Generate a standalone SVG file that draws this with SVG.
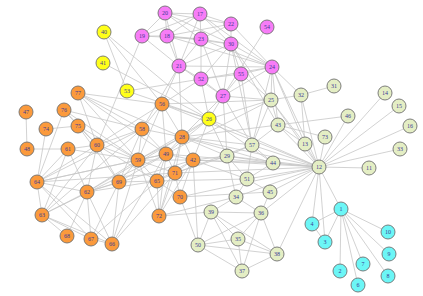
<svg xmlns="http://www.w3.org/2000/svg" width="423" height="296" viewBox="0 0 423 296">
<style>
.e line{stroke:#c6c6c6;stroke-width:0.8}
.n circle{stroke:#707070;stroke-width:0.9}
.n text{font-family:"Liberation Serif",serif;font-size:6px;fill:#3b3b94;text-anchor:middle;dominant-baseline:central}
.y circle{fill:#ffff1a}
.m circle{fill:#f77cf7}
.o circle{fill:#fb9a3c}
.g circle{fill:#e4eec4}
.c circle{fill:#6cf6f6}
</style>
<rect width="423" height="296" fill="#ffffff"/>
<g id="connectors" class="e">
<line x1="165" y1="13" x2="200" y2="14"/><line x1="165" y1="13" x2="167" y2="36"/><line x1="165" y1="13" x2="142" y2="36"/><line x1="165" y1="13" x2="201" y2="39"/><line x1="165" y1="13" x2="231" y2="24"/><line x1="165" y1="13" x2="179" y2="66"/><line x1="165" y1="13" x2="231" y2="44"/>
<line x1="200" y1="14" x2="231" y2="24"/><line x1="200" y1="14" x2="167" y2="36"/><line x1="200" y1="14" x2="142" y2="36"/><line x1="200" y1="14" x2="201" y2="39"/><line x1="200" y1="14" x2="231" y2="44"/><line x1="200" y1="14" x2="179" y2="66"/><line x1="200" y1="14" x2="272" y2="67"/>
<line x1="231" y1="24" x2="201" y2="39"/><line x1="231" y1="24" x2="167" y2="36"/><line x1="231" y1="24" x2="231" y2="44"/><line x1="231" y1="24" x2="272" y2="67"/>
<line x1="142" y1="36" x2="167" y2="36"/><line x1="142" y1="36" x2="201" y2="39"/><line x1="142" y1="36" x2="179" y2="66"/>
<line x1="167" y1="36" x2="201" y2="39"/><line x1="167" y1="36" x2="179" y2="66"/><line x1="167" y1="36" x2="231" y2="44"/><line x1="167" y1="36" x2="272" y2="67"/>
<line x1="201" y1="39" x2="231" y2="44"/><line x1="201" y1="39" x2="179" y2="66"/><line x1="201" y1="39" x2="272" y2="67"/><line x1="201" y1="39" x2="201" y2="79"/><line x1="201" y1="39" x2="223" y2="96"/>
<line x1="231" y1="44" x2="272" y2="67"/><line x1="231" y1="44" x2="179" y2="66"/><line x1="231" y1="44" x2="201" y2="79"/><line x1="231" y1="44" x2="241" y2="74"/><line x1="231" y1="44" x2="223" y2="96"/><line x1="231" y1="44" x2="271" y2="100"/><line x1="231" y1="44" x2="252" y2="145"/><line x1="231" y1="44" x2="278" y2="125"/>
<line x1="267" y1="27" x2="223" y2="96"/>
<line x1="272" y1="67" x2="241" y2="74"/><line x1="272" y1="67" x2="179" y2="66"/><line x1="272" y1="67" x2="223" y2="96"/><line x1="272" y1="67" x2="271" y2="100"/><line x1="272" y1="67" x2="301" y2="95"/><line x1="272" y1="67" x2="278" y2="125"/><line x1="272" y1="67" x2="305" y2="144"/><line x1="272" y1="67" x2="319" y2="167"/><line x1="272" y1="67" x2="252" y2="145"/><line x1="272" y1="67" x2="201" y2="79"/>
<line x1="179" y1="66" x2="201" y2="79"/><line x1="179" y1="66" x2="162" y2="104"/><line x1="179" y1="66" x2="182" y2="137"/><line x1="179" y1="66" x2="223" y2="96"/>
<line x1="201" y1="79" x2="241" y2="74"/><line x1="201" y1="79" x2="223" y2="96"/><line x1="201" y1="79" x2="209" y2="119"/><line x1="201" y1="79" x2="162" y2="104"/>
<line x1="241" y1="74" x2="223" y2="96"/><line x1="241" y1="74" x2="271" y2="100"/><line x1="241" y1="74" x2="252" y2="145"/>
<line x1="223" y1="96" x2="209" y2="119"/><line x1="223" y1="96" x2="271" y2="100"/><line x1="223" y1="96" x2="252" y2="145"/><line x1="223" y1="96" x2="227" y2="156"/><line x1="223" y1="96" x2="182" y2="137"/>
<line x1="142" y1="36" x2="97" y2="145"/><line x1="179" y1="66" x2="142" y2="129"/>
<line x1="104" y1="32" x2="162" y2="104"/><line x1="104" y1="32" x2="209" y2="119"/><line x1="104" y1="32" x2="127" y2="91"/><line x1="103" y1="63" x2="209" y2="119"/><line x1="127" y1="91" x2="201" y2="79"/><line x1="127" y1="91" x2="209" y2="119"/>
<line x1="209" y1="119" x2="162" y2="104"/><line x1="209" y1="119" x2="182" y2="137"/><line x1="209" y1="119" x2="166" y2="154"/><line x1="209" y1="119" x2="193" y2="160"/><line x1="209" y1="119" x2="319" y2="167"/><line x1="209" y1="119" x2="227" y2="156"/><line x1="209" y1="119" x2="271" y2="100"/><line x1="209" y1="119" x2="273" y2="163"/><line x1="209" y1="119" x2="138" y2="160"/>
<line x1="26" y1="112" x2="27" y2="149"/><line x1="27" y1="149" x2="68" y2="149"/><line x1="46" y1="129" x2="78" y2="126"/><line x1="64" y1="110" x2="78" y2="126"/><line x1="64" y1="110" x2="97" y2="145"/><line x1="64" y1="110" x2="142" y2="129"/><line x1="64" y1="110" x2="138" y2="160"/>
<line x1="78" y1="93" x2="142" y2="129"/><line x1="78" y1="93" x2="162" y2="104"/><line x1="78" y1="93" x2="138" y2="160"/><line x1="78" y1="93" x2="166" y2="154"/><line x1="78" y1="93" x2="97" y2="145"/><line x1="78" y1="93" x2="182" y2="137"/>
<line x1="78" y1="126" x2="97" y2="145"/><line x1="78" y1="126" x2="138" y2="160"/><line x1="78" y1="126" x2="119" y2="182"/>
<line x1="68" y1="149" x2="97" y2="145"/><line x1="68" y1="149" x2="37" y2="182"/><line x1="68" y1="149" x2="87" y2="192"/><line x1="68" y1="149" x2="42" y2="215"/><line x1="68" y1="149" x2="138" y2="160"/>
<line x1="97" y1="145" x2="142" y2="129"/><line x1="97" y1="145" x2="138" y2="160"/><line x1="97" y1="145" x2="87" y2="192"/><line x1="97" y1="145" x2="119" y2="182"/><line x1="97" y1="145" x2="37" y2="182"/><line x1="97" y1="145" x2="42" y2="215"/><line x1="97" y1="145" x2="157" y2="181"/><line x1="97" y1="145" x2="162" y2="104"/>
<line x1="142" y1="129" x2="138" y2="160"/><line x1="142" y1="129" x2="166" y2="154"/><line x1="142" y1="129" x2="162" y2="104"/><line x1="142" y1="129" x2="182" y2="137"/><line x1="142" y1="129" x2="119" y2="182"/><line x1="142" y1="129" x2="37" y2="182"/><line x1="142" y1="129" x2="42" y2="215"/>
<line x1="138" y1="160" x2="166" y2="154"/><line x1="138" y1="160" x2="119" y2="182"/><line x1="138" y1="160" x2="87" y2="192"/><line x1="138" y1="160" x2="37" y2="182"/><line x1="138" y1="160" x2="157" y2="181"/><line x1="138" y1="160" x2="175" y2="173"/><line x1="138" y1="160" x2="193" y2="160"/><line x1="138" y1="160" x2="182" y2="137"/>
<line x1="162" y1="104" x2="166" y2="154"/><line x1="162" y1="104" x2="182" y2="137"/><line x1="162" y1="104" x2="138" y2="160"/>
<line x1="182" y1="137" x2="166" y2="154"/><line x1="182" y1="137" x2="193" y2="160"/><line x1="182" y1="137" x2="175" y2="173"/>
<line x1="166" y1="154" x2="193" y2="160"/><line x1="166" y1="154" x2="175" y2="173"/><line x1="166" y1="154" x2="157" y2="181"/><line x1="166" y1="154" x2="119" y2="182"/><line x1="166" y1="154" x2="37" y2="182"/>
<line x1="193" y1="160" x2="175" y2="173"/><line x1="193" y1="160" x2="180" y2="197"/><line x1="193" y1="160" x2="157" y2="181"/>
<line x1="175" y1="173" x2="157" y2="181"/><line x1="175" y1="173" x2="180" y2="197"/><line x1="175" y1="173" x2="159" y2="216"/><line x1="175" y1="173" x2="112" y2="244"/>
<line x1="157" y1="181" x2="119" y2="182"/><line x1="157" y1="181" x2="159" y2="216"/><line x1="157" y1="181" x2="180" y2="197"/><line x1="157" y1="181" x2="87" y2="192"/><line x1="157" y1="181" x2="91" y2="239"/>
<line x1="119" y1="182" x2="87" y2="192"/><line x1="119" y1="182" x2="112" y2="244"/><line x1="119" y1="182" x2="91" y2="239"/>
<line x1="87" y1="192" x2="37" y2="182"/><line x1="87" y1="192" x2="42" y2="215"/><line x1="87" y1="192" x2="91" y2="239"/><line x1="87" y1="192" x2="112" y2="244"/><line x1="87" y1="192" x2="67" y2="236"/><line x1="87" y1="192" x2="182" y2="137"/><line x1="87" y1="192" x2="193" y2="160"/>
<line x1="37" y1="182" x2="42" y2="215"/><line x1="37" y1="182" x2="91" y2="239"/><line x1="37" y1="182" x2="112" y2="244"/><line x1="37" y1="182" x2="175" y2="173"/>
<line x1="42" y1="215" x2="91" y2="239"/><line x1="42" y1="215" x2="112" y2="244"/><line x1="42" y1="215" x2="67" y2="236"/><line x1="42" y1="215" x2="166" y2="154"/>
<line x1="91" y1="239" x2="112" y2="244"/>
<line x1="159" y1="216" x2="138" y2="160"/><line x1="159" y1="216" x2="166" y2="154"/><line x1="159" y1="216" x2="182" y2="137"/><line x1="159" y1="216" x2="193" y2="160"/>
<line x1="112" y1="244" x2="138" y2="160"/><line x1="112" y1="244" x2="166" y2="154"/><line x1="46" y1="129" x2="37" y2="182"/><line x1="64" y1="110" x2="37" y2="182"/>
<line x1="193" y1="160" x2="227" y2="156"/><line x1="193" y1="160" x2="319" y2="167"/><line x1="193" y1="160" x2="273" y2="163"/><line x1="193" y1="160" x2="247" y2="179"/>
<line x1="182" y1="137" x2="319" y2="167"/><line x1="182" y1="137" x2="252" y2="145"/><line x1="182" y1="137" x2="227" y2="156"/><line x1="166" y1="154" x2="319" y2="167"/><line x1="175" y1="173" x2="319" y2="167"/><line x1="180" y1="197" x2="319" y2="167"/><line x1="180" y1="197" x2="270" y2="192"/>
<line x1="159" y1="216" x2="236" y2="197"/><line x1="159" y1="216" x2="211" y2="212"/><line x1="193" y1="160" x2="198" y2="245"/><line x1="180" y1="197" x2="198" y2="245"/><line x1="157" y1="181" x2="247" y2="179"/><line x1="175" y1="173" x2="252" y2="145"/><line x1="166" y1="154" x2="271" y2="100"/><line x1="182" y1="137" x2="278" y2="125"/><line x1="162" y1="104" x2="271" y2="100"/><line x1="162" y1="104" x2="319" y2="167"/><line x1="182" y1="137" x2="273" y2="163"/><line x1="175" y1="173" x2="227" y2="156"/>
<line x1="227" y1="156" x2="273" y2="163"/><line x1="227" y1="156" x2="252" y2="145"/><line x1="227" y1="156" x2="247" y2="179"/><line x1="227" y1="156" x2="319" y2="167"/><line x1="227" y1="156" x2="236" y2="197"/>
<line x1="252" y1="145" x2="273" y2="163"/><line x1="252" y1="145" x2="271" y2="100"/><line x1="252" y1="145" x2="247" y2="179"/><line x1="252" y1="145" x2="319" y2="167"/><line x1="252" y1="145" x2="278" y2="125"/>
<line x1="273" y1="163" x2="319" y2="167"/><line x1="273" y1="163" x2="247" y2="179"/><line x1="247" y1="179" x2="319" y2="167"/><line x1="247" y1="179" x2="236" y2="197"/><line x1="247" y1="179" x2="270" y2="192"/><line x1="270" y1="192" x2="319" y2="167"/><line x1="236" y1="197" x2="319" y2="167"/><line x1="236" y1="197" x2="211" y2="212"/>
<line x1="278" y1="125" x2="271" y2="100"/><line x1="278" y1="125" x2="305" y2="144"/><line x1="278" y1="125" x2="319" y2="167"/><line x1="278" y1="125" x2="348" y2="116"/><line x1="278" y1="125" x2="325" y2="137"/>
<line x1="271" y1="100" x2="301" y2="95"/><line x1="271" y1="100" x2="319" y2="167"/><line x1="271" y1="100" x2="305" y2="144"/><line x1="301" y1="95" x2="334" y2="86"/><line x1="301" y1="95" x2="305" y2="144"/><line x1="301" y1="95" x2="319" y2="167"/>
<line x1="305" y1="144" x2="319" y2="167"/><line x1="325" y1="137" x2="319" y2="167"/><line x1="348" y1="116" x2="319" y2="167"/><line x1="385" y1="93" x2="319" y2="167"/><line x1="399" y1="106" x2="319" y2="167"/><line x1="410" y1="126" x2="319" y2="167"/><line x1="400" y1="149" x2="319" y2="167"/><line x1="369" y1="168" x2="319" y2="167"/>
<line x1="211" y1="212" x2="261" y2="213"/><line x1="211" y1="212" x2="198" y2="245"/><line x1="211" y1="212" x2="238" y2="239"/><line x1="211" y1="212" x2="242" y2="271"/><line x1="211" y1="212" x2="277" y2="254"/>
<line x1="261" y1="213" x2="198" y2="245"/><line x1="261" y1="213" x2="238" y2="239"/><line x1="261" y1="213" x2="242" y2="271"/><line x1="261" y1="213" x2="277" y2="254"/><line x1="261" y1="213" x2="236" y2="197"/><line x1="261" y1="213" x2="319" y2="167"/><line x1="261" y1="213" x2="270" y2="192"/>
<line x1="238" y1="239" x2="198" y2="245"/><line x1="238" y1="239" x2="242" y2="271"/><line x1="238" y1="239" x2="277" y2="254"/><line x1="198" y1="245" x2="277" y2="254"/><line x1="198" y1="245" x2="242" y2="271"/><line x1="242" y1="271" x2="277" y2="254"/><line x1="277" y1="254" x2="319" y2="167"/>
<line x1="341" y1="209" x2="312" y2="224"/><line x1="341" y1="209" x2="325" y2="242"/><line x1="341" y1="209" x2="388" y2="232"/><line x1="341" y1="209" x2="389" y2="254"/><line x1="341" y1="209" x2="363" y2="264"/><line x1="341" y1="209" x2="340" y2="271"/><line x1="341" y1="209" x2="388" y2="276"/><line x1="341" y1="209" x2="358" y2="285"/><line x1="312" y1="224" x2="325" y2="242"/><line x1="341" y1="209" x2="319" y2="167"/><line x1="312" y1="224" x2="319" y2="167"/><line x1="325" y1="242" x2="319" y2="167"/>
</g>
<g class="n y"><g id="n40"><circle cx="104" cy="32" r="7"/><text x="104" y="32">40</text></g><g id="n41"><circle cx="103" cy="63" r="7"/><text x="103" y="63">41</text></g><g id="n53"><circle cx="127" cy="91" r="7"/><text x="127" y="91">53</text></g><g id="n26"><circle cx="209" cy="119" r="7"/><text x="209" y="119">26</text></g></g>
<g class="n m"><g id="n20"><circle cx="165" cy="13" r="7"/><text x="165" y="13">20</text></g><g id="n17"><circle cx="200" cy="14" r="7"/><text x="200" y="14">17</text></g><g id="n22"><circle cx="231" cy="24" r="7"/><text x="231" y="24">22</text></g><g id="n54"><circle cx="267" cy="27" r="7"/><text x="267" y="27">54</text></g><g id="n19"><circle cx="142" cy="36" r="7"/><text x="142" y="36">19</text></g><g id="n18"><circle cx="167" cy="36" r="7"/><text x="167" y="36">18</text></g><g id="n23"><circle cx="201" cy="39" r="7"/><text x="201" y="39">23</text></g><g id="n30"><circle cx="231" cy="44" r="7"/><text x="231" y="44">30</text></g><g id="n21"><circle cx="179" cy="66" r="7"/><text x="179" y="66">21</text></g><g id="n24"><circle cx="272" cy="67" r="7"/><text x="272" y="67">24</text></g><g id="n52"><circle cx="201" cy="79" r="7"/><text x="201" y="79">52</text></g><g id="n55"><circle cx="241" cy="74" r="7"/><text x="241" y="74">55</text></g><g id="n27"><circle cx="223" cy="96" r="7"/><text x="223" y="96">27</text></g></g>
<g class="n o"><g id="n77"><circle cx="78" cy="93" r="7"/><text x="78" y="93">77</text></g><g id="n47"><circle cx="26" cy="112" r="7"/><text x="26" y="112">47</text></g><g id="n76"><circle cx="64" cy="110" r="7"/><text x="64" y="110">76</text></g><g id="n74"><circle cx="46" cy="129" r="7"/><text x="46" y="129">74</text></g><g id="n75"><circle cx="78" cy="126" r="7"/><text x="78" y="126">75</text></g><g id="n48"><circle cx="27" cy="149" r="7"/><text x="27" y="149">48</text></g><g id="n61"><circle cx="68" cy="149" r="7"/><text x="68" y="149">61</text></g><g id="n60"><circle cx="97" cy="145" r="7"/><text x="97" y="145">60</text></g><g id="n58"><circle cx="142" cy="129" r="7"/><text x="142" y="129">58</text></g><g id="n56"><circle cx="162" cy="104" r="7"/><text x="162" y="104">56</text></g><g id="n28"><circle cx="182" cy="137" r="7"/><text x="182" y="137">28</text></g><g id="n59"><circle cx="138" cy="160" r="7"/><text x="138" y="160">59</text></g><g id="n49"><circle cx="166" cy="154" r="7"/><text x="166" y="154">49</text></g><g id="n42"><circle cx="193" cy="160" r="7"/><text x="193" y="160">42</text></g><g id="n71"><circle cx="175" cy="173" r="7"/><text x="175" y="173">71</text></g><g id="n65"><circle cx="157" cy="181" r="7"/><text x="157" y="181">65</text></g><g id="n69"><circle cx="119" cy="182" r="7"/><text x="119" y="182">69</text></g><g id="n62"><circle cx="87" cy="192" r="7"/><text x="87" y="192">62</text></g><g id="n64"><circle cx="37" cy="182" r="7"/><text x="37" y="182">64</text></g><g id="n63"><circle cx="42" cy="215" r="7"/><text x="42" y="215">63</text></g><g id="n68"><circle cx="67" cy="236" r="7"/><text x="67" y="236">68</text></g><g id="n67"><circle cx="91" cy="239" r="7"/><text x="91" y="239">67</text></g><g id="n66"><circle cx="112" cy="244" r="7"/><text x="112" y="244">66</text></g><g id="n70"><circle cx="180" cy="197" r="7"/><text x="180" y="197">70</text></g><g id="n72"><circle cx="159" cy="216" r="7"/><text x="159" y="216">72</text></g></g>
<g class="n g"><g id="n25"><circle cx="271" cy="100" r="7"/><text x="271" y="100">25</text></g><g id="n32"><circle cx="301" cy="95" r="7"/><text x="301" y="95">32</text></g><g id="n31"><circle cx="334" cy="86" r="7"/><text x="334" y="86">31</text></g><g id="n43"><circle cx="278" cy="125" r="7"/><text x="278" y="125">43</text></g><g id="n46"><circle cx="348" cy="116" r="7"/><text x="348" y="116">46</text></g><g id="n73"><circle cx="325" cy="137" r="7"/><text x="325" y="137">73</text></g><g id="n13"><circle cx="305" cy="144" r="7"/><text x="305" y="144">13</text></g><g id="n57"><circle cx="252" cy="145" r="7"/><text x="252" y="145">57</text></g><g id="n29"><circle cx="227" cy="156" r="7"/><text x="227" y="156">29</text></g><g id="n44"><circle cx="273" cy="163" r="7"/><text x="273" y="163">44</text></g><g id="n51"><circle cx="247" cy="179" r="7"/><text x="247" y="179">51</text></g><g id="n45"><circle cx="270" cy="192" r="7"/><text x="270" y="192">45</text></g><g id="n34"><circle cx="236" cy="197" r="7"/><text x="236" y="197">34</text></g><g id="n12"><circle cx="319" cy="167" r="7"/><text x="319" y="167">12</text></g><g id="n11"><circle cx="369" cy="168" r="7"/><text x="369" y="168">11</text></g><g id="n14"><circle cx="385" cy="93" r="7"/><text x="385" y="93">14</text></g><g id="n15"><circle cx="399" cy="106" r="7"/><text x="399" y="106">15</text></g><g id="n16"><circle cx="410" cy="126" r="7"/><text x="410" y="126">16</text></g><g id="n33"><circle cx="400" cy="149" r="7"/><text x="400" y="149">33</text></g><g id="n39"><circle cx="211" cy="212" r="7"/><text x="211" y="212">39</text></g><g id="n36"><circle cx="261" cy="213" r="7"/><text x="261" y="213">36</text></g><g id="n35"><circle cx="238" cy="239" r="7"/><text x="238" y="239">35</text></g><g id="n50"><circle cx="198" cy="245" r="7"/><text x="198" y="245">50</text></g><g id="n38"><circle cx="277" cy="254" r="7"/><text x="277" y="254">38</text></g><g id="n37"><circle cx="242" cy="271" r="7"/><text x="242" y="271">37</text></g></g>
<g class="n c"><g id="n1"><circle cx="341" cy="209" r="7"/><text x="341" y="209">1</text></g><g id="n4"><circle cx="312" cy="224" r="7"/><text x="312" y="224">4</text></g><g id="n3"><circle cx="325" cy="242" r="7"/><text x="325" y="242">3</text></g><g id="n10"><circle cx="388" cy="232" r="7"/><text x="388" y="232">10</text></g><g id="n9"><circle cx="389" cy="254" r="7"/><text x="389" y="254">9</text></g><g id="n7"><circle cx="363" cy="264" r="7"/><text x="363" y="264">7</text></g><g id="n2"><circle cx="340" cy="271" r="7"/><text x="340" y="271">2</text></g><g id="n8"><circle cx="388" cy="276" r="7"/><text x="388" y="276">8</text></g><g id="n6"><circle cx="358" cy="285" r="7"/><text x="358" y="285">6</text></g></g>
</svg>
